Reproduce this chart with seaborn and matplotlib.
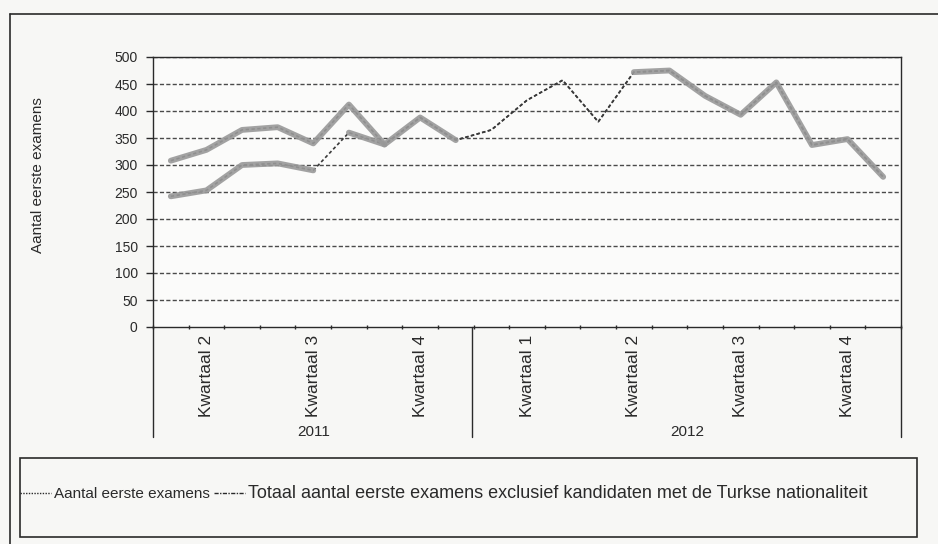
import pandas as pd
import matplotlib
matplotlib.use('Agg')
import matplotlib.pyplot as plt
import seaborn as sns
from matplotlib.lines import Line2D
from matplotlib.patches import Rectangle
from matplotlib.transforms import blended_transform_factory

# Data: monthly numbers, April 2011 - December 2012
maanden = [str(p) for p in pd.period_range('2011-04', '2012-12', freq='M')]
aantal = [308, 328, 365, 370, 340, 412, 338, 388, 346, 365, 420, 457,
          380, 472, 475, 428, 393, 453, 337, 348, 278]
excl_turks = [242, 253, 300, 303, 290, 360, 338, 388, 346, 365, 420, 457,
              380, 472, 475, 428, 393, 453, 337, 348, 278]
kwartalen = ['Kwartaal 2', 'Kwartaal 3', 'Kwartaal 4',
             'Kwartaal 1', 'Kwartaal 2', 'Kwartaal 3', 'Kwartaal 4']
jaren = ['2011', '2012']
maanden_per_jaar = [9, 12]

naam1 = 'Aantal eerste examens'
naam2 = 'Totaal aantal eerste examens exclusief kandidaten met de Turkse nationaliteit'

df = pd.DataFrame({'maand': maanden, 'x': range(len(maanden)),
                   naam1: aantal, naam2: excl_turks})

sns.set_theme(style='white')
plt.rcParams['font.family'] = ['Liberation Sans', 'DejaVu Sans']

W, H = 938, 544
fig = plt.figure(figsize=(W / 100, H / 100), dpi=100)
fig.patch.set_facecolor('#f7f7f5')


def fx(px):
    return px / W


def fy(py):
    return 1 - py / H


left, right, bottom, top = 153, 901, 327, 57
ax = fig.add_axes([fx(left), fy(bottom), fx(right - left), fy(top) - fy(bottom)])
ax.set_facecolor('#fbfbfa')
ink = '#2a2a2a'

# gridlines
for v in range(50, 501, 50):
    ax.axhline(v, color='#4a4a4a', lw=1, ls=(0, (3, 1.6)), zorder=1)

# thin dotted lines for both series
sns.lineplot(data=df, x='x', y=naam1, ax=ax, color='#3a3a3a', lw=1.2,
             linestyle=(0, (2, 1.5)), zorder=2)
sns.lineplot(data=df, x='x', y=naam2, ax=ax, color='#3a3a3a', lw=1.2,
             linestyle=(0, (2, 1.5)), zorder=2)

# thick grey strokes where the scan shows them
grijs = '#999999'
for col, a, b in [(naam1, 0, 9), (naam1, 13, 21), (naam2, 0, 5), (naam2, 5, 7)]:
    seg = df.iloc[a:b]
    sns.lineplot(data=seg, x='x', y=col, ax=ax, color=grijs, lw=4.2,
                 solid_capstyle='round', solid_joinstyle='round',
                 alpha=0.9, zorder=3)

ax.set_xlim(-0.5, len(maanden) - 0.5)
ax.set_ylim(0, 500)
ax.set_xlabel('')
ax.set_ylabel('')
ax.set_yticks(range(0, 501, 50))
ax.tick_params(axis='y', labelsize=10, colors=ink, length=5, width=1,
               direction='out', pad=6, left=True)
ax.set_xticks([i - 0.5 for i in range(len(maanden) + 1)])
ax.set_xticklabels([])
ax.tick_params(axis='x', length=3, width=1, direction='inout', colors=ink, bottom=True)
for s in ax.spines.values():
    s.set_color(ink)
    s.set_linewidth(1)

# quarter and year labels
tr = blended_transform_factory(ax.transData, fig.transFigure)
for i, k in enumerate(kwartalen):
    ax.text(1 + 3 * i, fy(335), k, rotation=90, ha='center', va='top',
            fontsize=12.5, color=ink, transform=tr)
start = 0
for j, n in zip(jaren, maanden_per_jaar):
    ax.text(start + (n - 1) / 2, fy(432), j, ha='center', va='center',
            fontsize=11, color=ink, transform=tr)
    start += n

# category area lines
for px in [left, 472, right]:
    fig.add_artist(Line2D([fx(px), fx(px)], [fy(bottom), fy(437)], color=ink, lw=1))

# outer frame
fig.add_artist(Line2D([fx(10), 1], [fy(14), fy(14)], color=ink, lw=1.2))
fig.add_artist(Line2D([fx(10), fx(10)], [fy(14), 0], color=ink, lw=1.2))

fig.text(fx(38), fy(175), 'Aantal eerste examens', rotation=90,
         ha='center', va='center', fontsize=11, color=ink)

# legend box
fig.add_artist(Rectangle((fx(20), fy(537)), fx(917 - 20), fy(458) - fy(537),
                         transform=fig.transFigure, fill=False, ec=ink, lw=1.2))
handles = [Line2D([], [], color=ink, lw=1, ls=(0, (1, 1))),
           Line2D([], [], color=ink, lw=1, ls=(0, (3, 1, 1, 1)))]
leg = fig.legend(handles, [naam1, naam2], loc='center left',
                 bbox_to_anchor=(fx(20), fy(494)), bbox_transform=fig.transFigure,
                 ncol=2, frameon=False, fontsize=11, handlelength=2,
                 handletextpad=0.2, columnspacing=0.3, borderaxespad=0, borderpad=0,
                 labelcolor=ink)
leg.get_texts()[1].set_fontsize(13)

fig.savefig('out.png', dpi=100, facecolor=fig.get_facecolor())
